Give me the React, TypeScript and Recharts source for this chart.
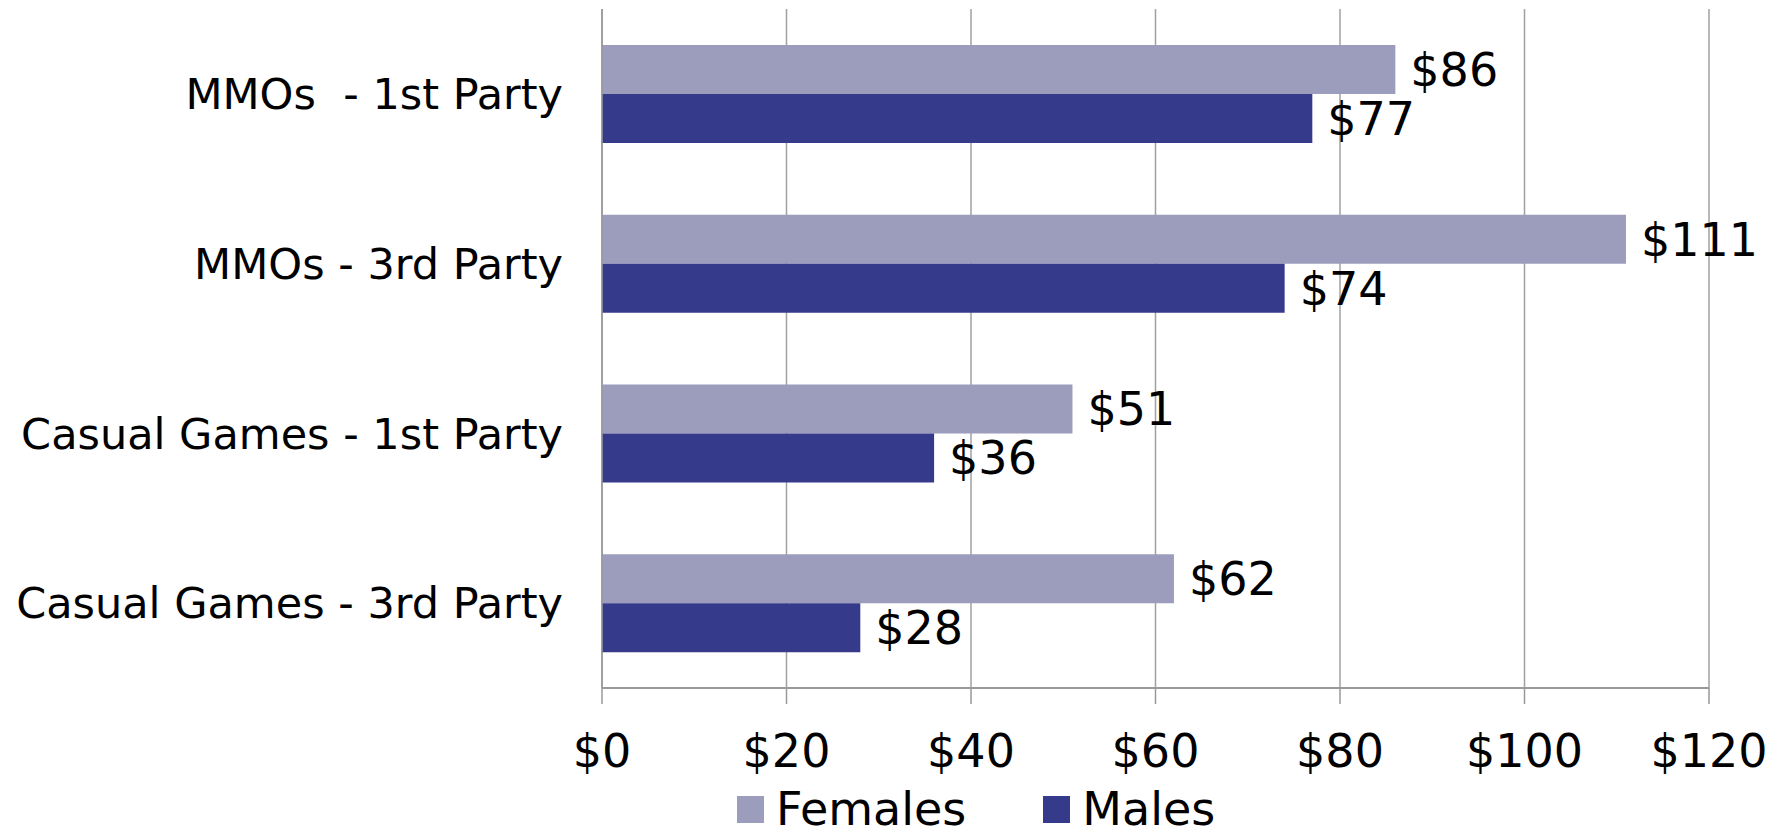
import { BarChart, Bar, XAxis, YAxis, CartesianGrid, Legend, LabelList } from "recharts";

const categories = [
  "MMOs\u00a0 - 1st Party",
  "MMOs - 3rd Party",
  "Casual Games - 1st Party",
  "Casual Games - 3rd Party",
];
const females = [86, 111, 51, 62];
const males = [77, 74, 36, 28];
const xTicks = [0, 20, 40, 60, 80, 100, 120];

const FEMALE_COLOR = "#9c9cbc";
const MALE_COLOR = "#353a8a";

const data = categories.map((name, i) => ({
  name,
  Females: females[i],
  Males: males[i],
}));

const money = (v: number) => `$${v}`;

function LegendBox(props: any) {
  const { payload } = props;
  return (
    <div style={{ display: "flex", alignItems: "center", fontSize: 46, lineHeight: "46px" }}>
      {(payload || []).map((p: any, i: number) => (
        <div key={p.value} style={{ display: "flex", alignItems: "center", marginRight: i === 0 ? 77 : 0 }}>
          <span style={{ width: 27, height: 27, background: p.color, display: "inline-block" }} />
          <span style={{ marginLeft: 12, color: "#000" }}>{p.value}</span>
        </div>
      ))}
    </div>
  );
}

export default function App() {
  return (
    <div style={{ fontFamily: "'DejaVu Sans', Verdana, sans-serif", position: "absolute", left: 0, top: 0 }}>
      <BarChart
        width={1789}
        height={836}
        data={data}
        layout="vertical"
        margin={{ top: 9, right: 80, bottom: 0, left: 0 }}
        barGap={0}
      >
        <CartesianGrid horizontal={false} stroke="#a0a0a0" strokeWidth={1.5} />
        <XAxis
          type="number"
          domain={[0, 120]}
          ticks={xTicks}
          tickFormatter={money}
          axisLine={{ stroke: "#999", strokeWidth: 2 }}
          tickLine={{ stroke: "#999", strokeWidth: 1.5 }}
          tickSize={16}
          tickMargin={30}
          tick={{ fill: "#000", fontSize: 46 }}
          height={148}
          interval={0}
        />
        <YAxis
          type="category"
          dataKey="name"
          width={602}
          axisLine={{ stroke: "#999", strokeWidth: 1.5 }}
          tickLine={false}
          tickSize={0}
          tickMargin={39}
          tick={{ fill: "#000", fontSize: 43 }}
          interval={0}
        />
        <Legend
          layout="horizontal"
          verticalAlign="middle"
          align="center"
          content={<LegendBox />}
          wrapperStyle={{ position: "absolute", left: 737, top: 786, width: "auto", height: "auto" }}
        />
        <Bar dataKey="Females" fill={FEMALE_COLOR} barSize={49} isAnimationActive={false}>
          <LabelList dataKey="Females" position="right" offset={15} formatter={money} fill="#000" fontSize={46} />
        </Bar>
        <Bar dataKey="Males" fill={MALE_COLOR} barSize={49} isAnimationActive={false}>
          <LabelList dataKey="Males" position="right" offset={15} formatter={money} fill="#000" fontSize={46} />
        </Bar>
      </BarChart>
    </div>
  );
}
